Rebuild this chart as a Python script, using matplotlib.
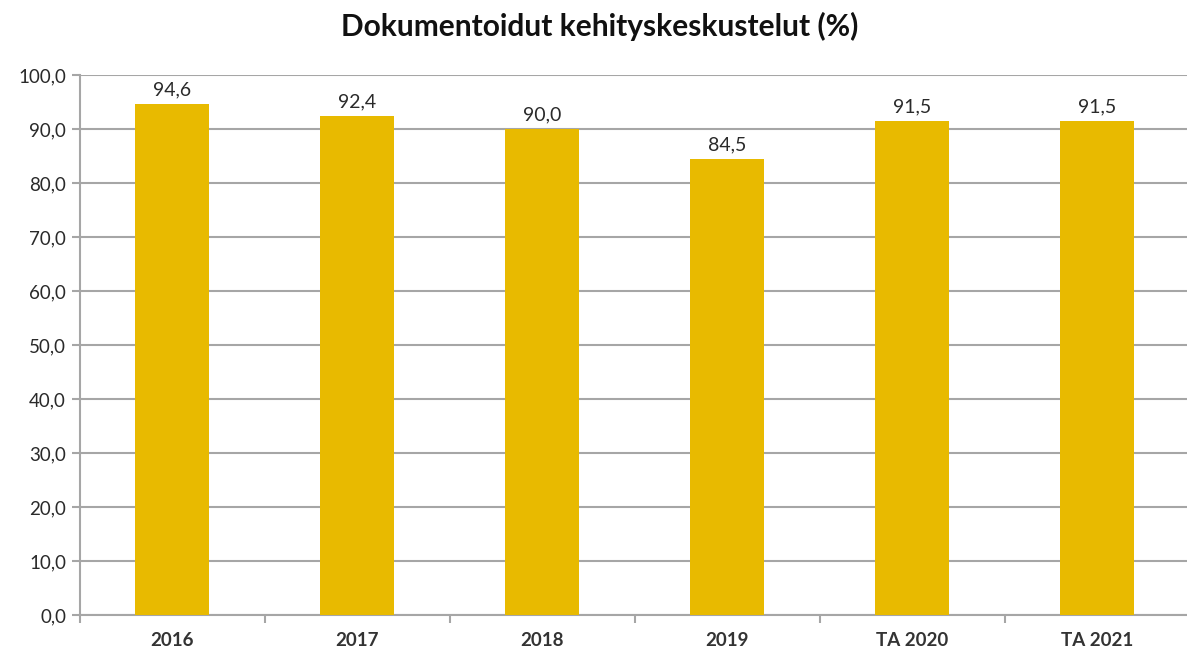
import matplotlib.pyplot as plt
import numpy as np

plt.rcParams['font.family'] = ['Lato', 'DejaVu Sans']

# data
categories = ['2016', '2017', '2018', '2019', 'TA 2020', 'TA 2021']
values = [94.6, 92.4, 90.0, 84.5, 91.5, 91.5]
yticks = np.arange(0, 101, 10)

W, H = 1187, 659
fig = plt.figure(figsize=(W / 100, H / 100), dpi=100)
ax = fig.add_axes([80 / W, 1 - 615 / H, 1110 / W, 540 / H])

x = np.arange(len(categories))
bars = ax.bar(x, values, width=0.4, color='#E8BA00', zorder=3)

for xi, v in zip(x, values):
    ax.text(xi, v + 1.0, f'{v:.1f}'.replace('.', ','), ha='center', va='bottom',
            fontsize=14, color='#2a2a2a')

ax.set_xlim(-0.5, len(categories) - 0.5)
ax.set_ylim(0, 100)
ax.set_yticks(yticks)
ax.set_yticklabels([f'{t:.1f}'.replace('.', ',') for t in yticks], fontsize=13.5, color='#2a2a2a')
ax.yaxis.grid(True, color='#a6a6a6', linewidth=1.5, zorder=0)

# category labels between boundary ticks
ax.set_xticks(x)
ax.set_xticklabels(categories, fontsize=13.5, color='#333333', fontweight='bold')
ax.tick_params(axis='x', length=0, pad=12)
ax.set_xticks(np.arange(-0.5, len(categories)), minor=True)
ax.tick_params(axis='x', which='minor', length=6, width=1.5, color='#a6a6a6')
ax.tick_params(axis='y', length=6, width=1.5, color='#a6a6a6', pad=4)

for s in ['top', 'right']:
    ax.spines[s].set_visible(False)
for s in ['left', 'bottom']:
    ax.spines[s].set_color('#a6a6a6')
    ax.spines[s].set_linewidth(1.5)

fig.text(600 / W, 1 - 26 / H, 'Dokumentoidut kehityskeskustelut (%)', ha='center', va='center',
         fontsize=21.5, fontweight='bold', color='#111111')

fig.savefig('out.png', dpi=100)
